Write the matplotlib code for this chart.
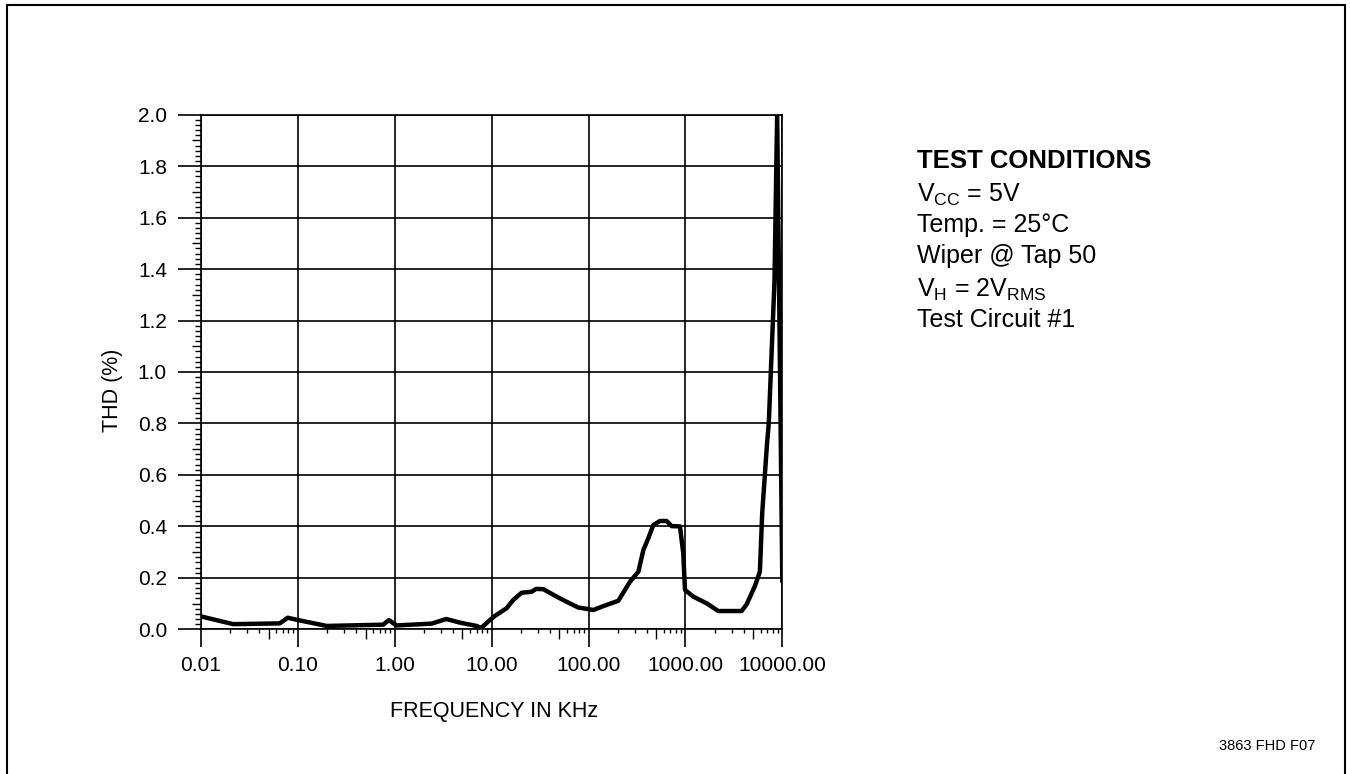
import matplotlib
matplotlib.use('Agg')
import matplotlib.pyplot as plt
import matplotlib.patches as patches
from matplotlib.ticker import FixedLocator, NullFormatter, MultipleLocator

plt.rcParams['font.family'] = ['Liberation Sans', 'DejaVu Sans']
plt.rcParams['mathtext.fontset'] = 'custom'
plt.rcParams['mathtext.rm'] = 'Liberation Sans'
plt.rcParams['mathtext.it'] = 'Liberation Sans'

# THD vs frequency
freq_khz = [0.01, 0.0215, 0.065, 0.0786, 0.1, 0.198, 0.76, 0.87, 1.04, 2.4,
            3.4, 4.7, 7.0, 7.8, 9.2, 10.8, 14.3, 16.7, 20.4, 25.9,
            28.7, 34.1, 46.9, 59.4, 78, 112, 142, 203, 268, 327,
            368, 414, 466, 546, 640, 721, 878, 950, 990, 1205,
            1657, 2182, 3802, 4285, 5214, 5870, 6200, 6550, 6950, 7250,
            8300, 8850, 10000]
thd_pct = [0.050, 0.020, 0.023, 0.045, 0.036, 0.013, 0.018, 0.036, 0.015, 0.022,
           0.040, 0.026, 0.013, 0.005, 0.030, 0.052, 0.082, 0.114, 0.142, 0.146,
           0.157, 0.156, 0.127, 0.107, 0.085, 0.075, 0.090, 0.111, 0.185, 0.224,
           0.308, 0.354, 0.405, 0.421, 0.421, 0.401, 0.400, 0.296, 0.153, 0.127,
           0.101, 0.071, 0.071, 0.097, 0.168, 0.224, 0.450, 0.580, 0.720, 0.800,
           1.350, 2.000, 0.190]

x_ticks = [0.01, 0.1, 1, 10, 100, 1000, 10000]
x_labels = ['0.01', '0.10', '1.00', '10.00', '100.00', '1000.00', '10000.00']

conditions = ['V$_{\\mathrm{CC}}$ = 5V', 'Temp. = 25°C', 'Wiper @ Tap 50',
              'V$_{\\mathrm{H}}$ = 2V$_{\\mathrm{RMS}}$', 'Test Circuit #1']

W, H = 1350, 774
fig = plt.figure(figsize=(W / 100, H / 100), dpi=100)
ax = fig.add_axes([201 / W, 1 - 629.3 / H, 581.3 / W, 514.6 / H])

ax.plot(freq_khz, thd_pct, color='black', lw=3.2, solid_joinstyle='round', zorder=3)

ax.set_xscale('log')
ax.set_xlim(0.01, 10000)
ax.set_ylim(0, 2.0)

ax.xaxis.set_major_locator(FixedLocator(x_ticks))
ax.set_xticklabels(x_labels)
minor_x = [m * d for d in x_ticks[:-1] for m in range(2, 10)]
ax.xaxis.set_minor_locator(FixedLocator(minor_x))
ax.xaxis.set_minor_formatter(NullFormatter())

ax.yaxis.set_major_locator(MultipleLocator(0.2))
ax.yaxis.set_major_formatter(matplotlib.ticker.FormatStrFormatter('%.1f'))
ax.yaxis.set_minor_locator(MultipleLocator(0.02))

ax.grid(True, which='major', color='black', lw=1.2)
for s in ax.spines.values():
    s.set_color('black')
    s.set_linewidth(1.2)

ax.tick_params(axis='x', which='major', direction='out', length=13, width=1.2,
               pad=6, labelsize=15)
ax.tick_params(axis='x', which='minor', direction='out', length=3, width=1)
ax.tick_params(axis='y', which='major', direction='out', length=16.5, width=1.2,
               pad=8, labelsize=15)
ax.tick_params(axis='y', which='minor', direction='out', length=4.5, width=1)

fig.canvas.draw()
# longer minor ticks at the 5s (x) and at the odd tenths (y)
for t, loc in zip(ax.xaxis.get_minor_ticks(), ax.xaxis.get_minorticklocs()):
    if abs(loc / 10 ** round(__import__('math').log10(loc) - 0.5) - 5) < 1e-6:
        t.tick1line.set_markersize(7)
for t, loc in zip(ax.yaxis.get_minor_ticks(), ax.yaxis.get_minorticklocs()):
    if abs(round(loc * 10) - loc * 10) < 1e-6 and round(loc * 10) % 2 == 1:
        t.tick1line.set_markersize(6.5)

fig.text(494 / W, 1 - 711 / H, 'FREQUENCY IN KHz', ha='center', va='center', fontsize=15.5)
fig.text(113 / W, 1 - 390 / H, 'THD (%)', ha='center', va='center', rotation=90, fontsize=15.5)

fig.text(916.7 / W, 1 - 167.7 / H, 'TEST CONDITIONS', fontsize=18.5, weight='bold',
         va='baseline')
baselines = [201.7, 231.7, 263.3, 296.7, 326.7]
for txt, b in zip(conditions, baselines):
    fig.text(916.7 / W, 1 - b / H, txt, fontsize=18, va='baseline')

fig.text(1315 / W, 1 - 750 / H, '3863 FHD F07', fontsize=10.5, ha='right', va='baseline')

border = patches.Rectangle((7 / W, -0.01), 1338 / W, 1.01 - 5 / H, transform=fig.transFigure,
                           fill=False, edgecolor='black', lw=1.5)
fig.patches.append(border)

fig.savefig('out.png', dpi=100)
